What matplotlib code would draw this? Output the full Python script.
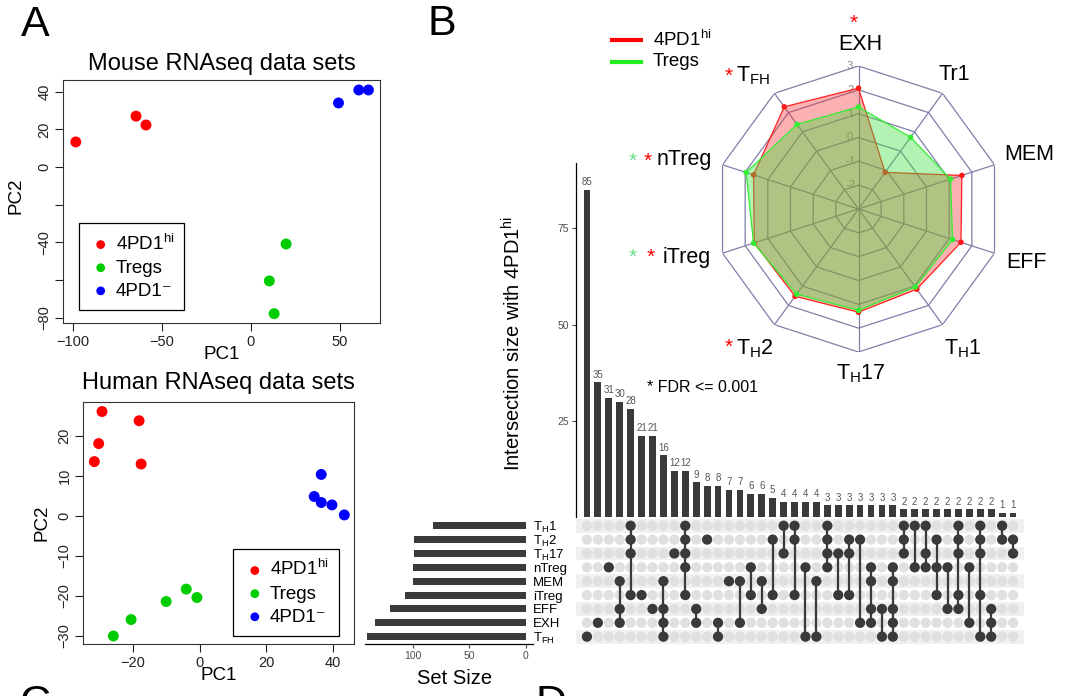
import numpy as np
import matplotlib.pyplot as plt
from matplotlib.lines import Line2D

plt.rcParams['font.family'] = ['Liberation Sans', 'DejaVu Sans']
plt.rcParams['mathtext.fontset'] = 'custom'
plt.rcParams['mathtext.rm'] = 'Liberation Sans'
plt.rcParams['mathtext.it'] = 'Liberation Sans:italic'
plt.rcParams['mathtext.bf'] = 'Liberation Sans:bold'

# ---- data ----
groups = ['4PD1$^{\\rm hi}$', 'Tregs', '4PD1\u207b']
group_colors = ['#ff0000', '#00cd00', '#0000ff']

mouse_hi_x = [-98.3, -64.5, -58.9]
mouse_hi_y = [13.3, 27.0, 22.3]
mouse_treg_x = [19.7, 10.3, 13.0]
mouse_treg_y = [-40.9, -60.5, -77.9]
mouse_neg_x = [49.1, 60.5, 65.9]
mouse_neg_y = [34.0, 40.9, 40.9]

human_hi_x = [-29.2, -18.1, -30.2, -31.5, -17.5]
human_hi_y = [26.0, 23.7, 18.0, 13.5, 12.9]
human_treg_x = [-4.0, -0.8, -10.0, -20.5, -25.8]
human_treg_y = [-18.3, -20.4, -21.4, -25.9, -30.0]
human_neg_x = [36.4, 34.3, 36.4, 39.6, 43.3]
human_neg_y = [10.3, 4.8, 3.3, 2.7, 0.2]

radar_labels = ['EXH', 'Tr1', 'MEM', 'EFF', 'T$_{\\rm H}$1', 'T$_{\\rm H}$17',
                'T$_{\\rm H}$2', 'iTreg', 'nTreg', 'T$_{\\rm FH}$']
radar_hi = [2.07, -1.1, 1.56, 1.52, 1.16, 1.33, 1.53, 1.6, 1.63, 2.3]
radar_treg = [1.28, 0.72, 1.06, 1.15, 1.05, 1.25, 1.42, 1.63, 1.96, 1.39]
radar_rings = [-2, -1, 0, 1, 2, 3]

set_names = ['T$_{\\rm H}$1', 'T$_{\\rm H}$2', 'T$_{\\rm H}$17', 'nTreg', 'MEM',
             'iTreg', 'EFF', 'EXH', 'T$_{\\rm FH}$']
set_sizes = [82, 99, 99, 100, 100, 107, 120, 134, 141]
inter_sizes = [85, 35, 31, 30, 28, 21, 21, 16, 12, 12, 9, 8, 8, 7, 7, 6, 6, 5,
               4, 4, 4, 4, 3, 3, 3, 3, 3, 3, 3, 2, 2, 2, 2, 2, 2, 2, 2, 2, 1, 1]
inter_members = [[8], [7], [3], [4, 6, 7], [0, 1, 2, 5], [5], [6], [4, 6, 7, 8],
                 [2], [0, 1, 2, 3, 5], [6, 7], [1], [7, 8], [4], [4, 7], [3, 5],
                 [4, 6], [1, 5], [0, 2], [0, 1, 5], [3, 8], [4, 8], [0, 1, 2, 3],
                 [2, 5], [1, 2, 5], [1, 7], [3, 4, 6, 7], [6, 8], [3, 4, 6, 7, 8],
                 [0, 1, 2], [0, 3], [0, 2, 3], [1, 3, 5], [3, 6], [0, 1, 2, 5, 6],
                 [3, 7], [0, 1, 2, 5, 8], [6, 7, 8], [0, 1], [1, 2]]

W, H = 1070, 696


def box(x0, y0, x1, y1):
    return [x0 / W, 1 - y1 / H, (x1 - x0) / W, (y1 - y0) / H]


fig = plt.figure(figsize=(W / 100, H / 100), dpi=100)


def pca_panel(rect, title, pts, xlim, ylim, xticks, yticks, ylabs, tpad, leg_xy, ylab_y):
    ax = fig.add_axes(rect)
    for (xs, ys), lab, c in zip(pts, groups, group_colors):
        ax.scatter(xs, ys, s=62, color=c, label=lab, edgecolors='none')
    ax.set_xlim(xlim)
    ax.set_ylim(ylim)
    ax.set_xticks(xticks)
    ax.set_yticks(yticks)
    ax.set_yticklabels(ylabs, rotation=90, va='center')
    ax.tick_params(length=6, width=0.8, labelsize=10.5, pad=2.5, colors='#222')
    for s in ax.spines.values():
        s.set_linewidth(0.8)
        s.set_color('#333')
    ax.set_title(title, fontsize=17, pad=tpad)
    ax.set_xlabel('PC1', fontsize=13.5)
    ax.set_ylabel('PC2', fontsize=13.5)
    ax.xaxis.set_label_coords(0.5, -0.095)
    ax.yaxis.set_label_coords(-0.122, ylab_y)
    leg = ax.legend(loc='lower left', bbox_to_anchor=leg_xy, fontsize=13.5,
                    frameon=True, fancybox=False, edgecolor='black', framealpha=1,
                    handletextpad=0.2, handlelength=1.2, labelspacing=0.32,
                    borderpad=0.55, borderaxespad=0, markerscale=0.8)
    leg.get_frame().set_linewidth(0.9)
    return ax


pca_panel(box(63.3, 80, 380, 322.7), 'Mouse RNAseq data sets',
          [(mouse_hi_x, mouse_hi_y), (mouse_treg_x, mouse_treg_y), (mouse_neg_x, mouse_neg_y)],
          (-105.3, 72.4), (-82.7, 46.2), [-100, -50, 0, 50],
          [-80, -60, -40, -20, 0, 20, 40], ['\u221280', '', '\u221240', '', '0', '20', '40'],
          7.2, (0.05, 0.052), 0.522)

pca_panel(box(83.3, 402.3, 354, 644), 'Human RNAseq data sets',
          [(human_hi_x, human_hi_y), (human_treg_x, human_treg_y), (human_neg_x, human_neg_y)],
          (-34.8, 46.2), (-32, 28.3), [-20, 0, 20, 40],
          [-30, -20, -10, 0, 10, 20], ['\u221230', '\u221220', '\u221210', '0', '10', '20'],
          9.4, (0.554, 0.033), 0.503)

# ---- upset: intersection bars ----
dark = '#3a3a3a'
ncol = len(inter_sizes)
xs = np.arange(ncol)
axb = fig.add_axes(box(576, 163, 1024, 517))
axb.bar(xs, inter_sizes, width=0.62, color=dark)
for x, v in zip(xs, inter_sizes):
    axb.annotate(str(v), (x, v), xytext=(0, 2), textcoords='offset points',
                 ha='center', va='bottom', fontsize=7, color='#555555')
axb.set_xlim(-1, ncol)
axb.set_ylim(0, 92)
axb.set_xticks([])
axb.set_yticks([25, 50, 75])
axb.tick_params(axis='y', length=3, width=0.8, labelsize=7.5, colors='#4d4d4d', pad=2)
for s in ['top', 'right', 'bottom']:
    axb.spines[s].set_visible(False)
axb.spines['left'].set_linewidth(0.9)
axb.patch.set_alpha(0)
axb.set_ylabel('Intersection size with 4PD1$^{\\rm hi}$', fontsize=14.5)
axb.yaxis.set_label_coords(-0.116, 0.49)

# ---- upset: matrix ----
axm = fig.add_axes(box(576, 518.8, 1024, 643.6))
nset = len(set_names)
for i in range(0, nset, 2):
    axm.axhspan(i - 0.5, i + 0.5, color='#f0f0f0', lw=0, zorder=0)
for j, mem in enumerate(inter_members):
    off = [r for r in range(nset) if r not in mem]
    axm.scatter([j] * len(off), off, s=55, color='#e0e0e0', edgecolors='none', zorder=2)
    axm.plot([j, j], [min(mem), max(mem)], color=dark, lw=1.6, zorder=3)
    axm.scatter([j] * len(mem), mem, s=55, color=dark, edgecolors='none', zorder=4)
axm.set_xlim(-1, ncol)
axm.set_ylim(nset - 0.5, -0.5)
axm.axis('off')

# ---- upset: set sizes ----
axs = fig.add_axes(box(365, 518.8, 533, 643.6))
axs.barh(np.arange(nset), set_sizes, height=0.5, color=dark)
axs.set_xlim(142.6, -6.5)
axs.set_ylim(nset - 0.5, -0.5)
axs.set_xticks([0, 50, 100])
axs.tick_params(axis='x', length=3, width=0.8, labelsize=7.5, colors='#4d4d4d', pad=2)
axs.yaxis.tick_right()
axs.set_yticks(np.arange(nset))
axs.set_yticklabels(set_names, fontsize=9.5, ha='left')
axs.tick_params(axis='y', length=0, pad=0)
for s in ['top', 'right', 'left']:
    axs.spines[s].set_visible(False)
axs.spines['bottom'].set_linewidth(0.9)
axs.patch.set_alpha(0)
fig.text(455 / W, 1 - 678 / H, 'Set Size', ha='center', va='center', fontsize=14.5)

# ---- radar ----
axr = fig.add_axes(box(715.5, 66, 1001.5, 352), projection='polar')
axr.set_theta_zero_location('N')
axr.set_theta_direction(-1)
axr.set_ylim(-3, 3)
axr.axis('off')
nax = len(radar_labels)
theta = np.deg2rad(np.arange(nax) * 360 / nax)
tc = np.append(theta, theta[0])
grid_c = '#7f7fa8'
for v in radar_rings:
    axr.plot(tc, [v] * (nax + 1), color=grid_c, lw=0.9, zorder=1)
for t in theta:
    axr.plot([t, t], [-3, 3], color=grid_c, lw=0.9, zorder=1)
for v in radar_rings:
    axr.annotate(str(v), (0, v), xytext=(-6, 0), textcoords='offset points',
                 ha='center', va='center', fontsize=8, color='#8a8a8a', zorder=1)

hi_c = np.append(radar_hi, radar_hi[0])
tr_c = np.append(radar_treg, radar_treg[0])
axr.fill(tc, hi_c, color=(0.97, 0.2, 0.2), alpha=0.38, lw=0, zorder=2)
axr.plot(tc, hi_c, color='#ff2020', lw=0.9, zorder=3)
axr.scatter(theta, radar_hi, s=16, color='#ff1a1a', edgecolors='none', zorder=4)
axr.fill(tc, tr_c, color=(0.25, 0.88, 0.25), alpha=0.4, lw=0, zorder=5)
axr.plot(tc, tr_c, color='#33ee33', lw=0.9, zorder=6)
axr.scatter(theta, radar_treg, s=16, color='#33ee33', edgecolors='none', zorder=7)

# axis label centres (pixels)
label_xy = [(860, 44), (954, 75), (1029, 155), (1027, 263), (963, 349),
            (861, 374), (755, 349), (687, 258), (684, 160), (753, 76)]
for (lx, ly), lab in zip(label_xy, radar_labels):
    fig.text(lx / W, 1 - ly / H, lab, ha='center', va='center', fontsize=15.5)

# significance stars
stars = [(854, 19, 'red'), (729, 72, 'red'), (633, 157, '#66dd88'), (648, 157, 'red'),
         (633, 253, '#66dd88'), (651, 253, 'red'), (729, 343, 'red')]
for sx, sy, c in stars:
    fig.text(sx / W, 1 - (sy + 4) / H, '*', ha='center', va='center', fontsize=15, color=c)

# radar legend
for yy, c, lab in [(40, '#ff0000', '4PD1$^{\\rm hi}$'), (62, '#22ee22', 'Tregs')]:
    fig.add_artist(Line2D([612 / W, 641 / W], [1 - yy / H] * 2, color=c, lw=3))
    fig.text(653 / W, 1 - yy / H, lab, ha='left', va='center', fontsize=13.5)

fig.text(647 / W, 1 - 388 / H, '* FDR <= 0.001', ha='left', va='center', fontsize=11.5)

# panel letters
fig.text(35 / W, 1 - 25 / H, 'A', ha='center', va='center', fontsize=31)
fig.text(442 / W, 1 - 24 / H, 'B', ha='center', va='center', fontsize=31)
fig.text(35 / W, 1 - 684 / H, 'C', ha='center', va='top', fontsize=31)
fig.text(551 / W, 1 - 684 / H, 'D', ha='center', va='top', fontsize=31)

fig.savefig('out.png', dpi=100)
